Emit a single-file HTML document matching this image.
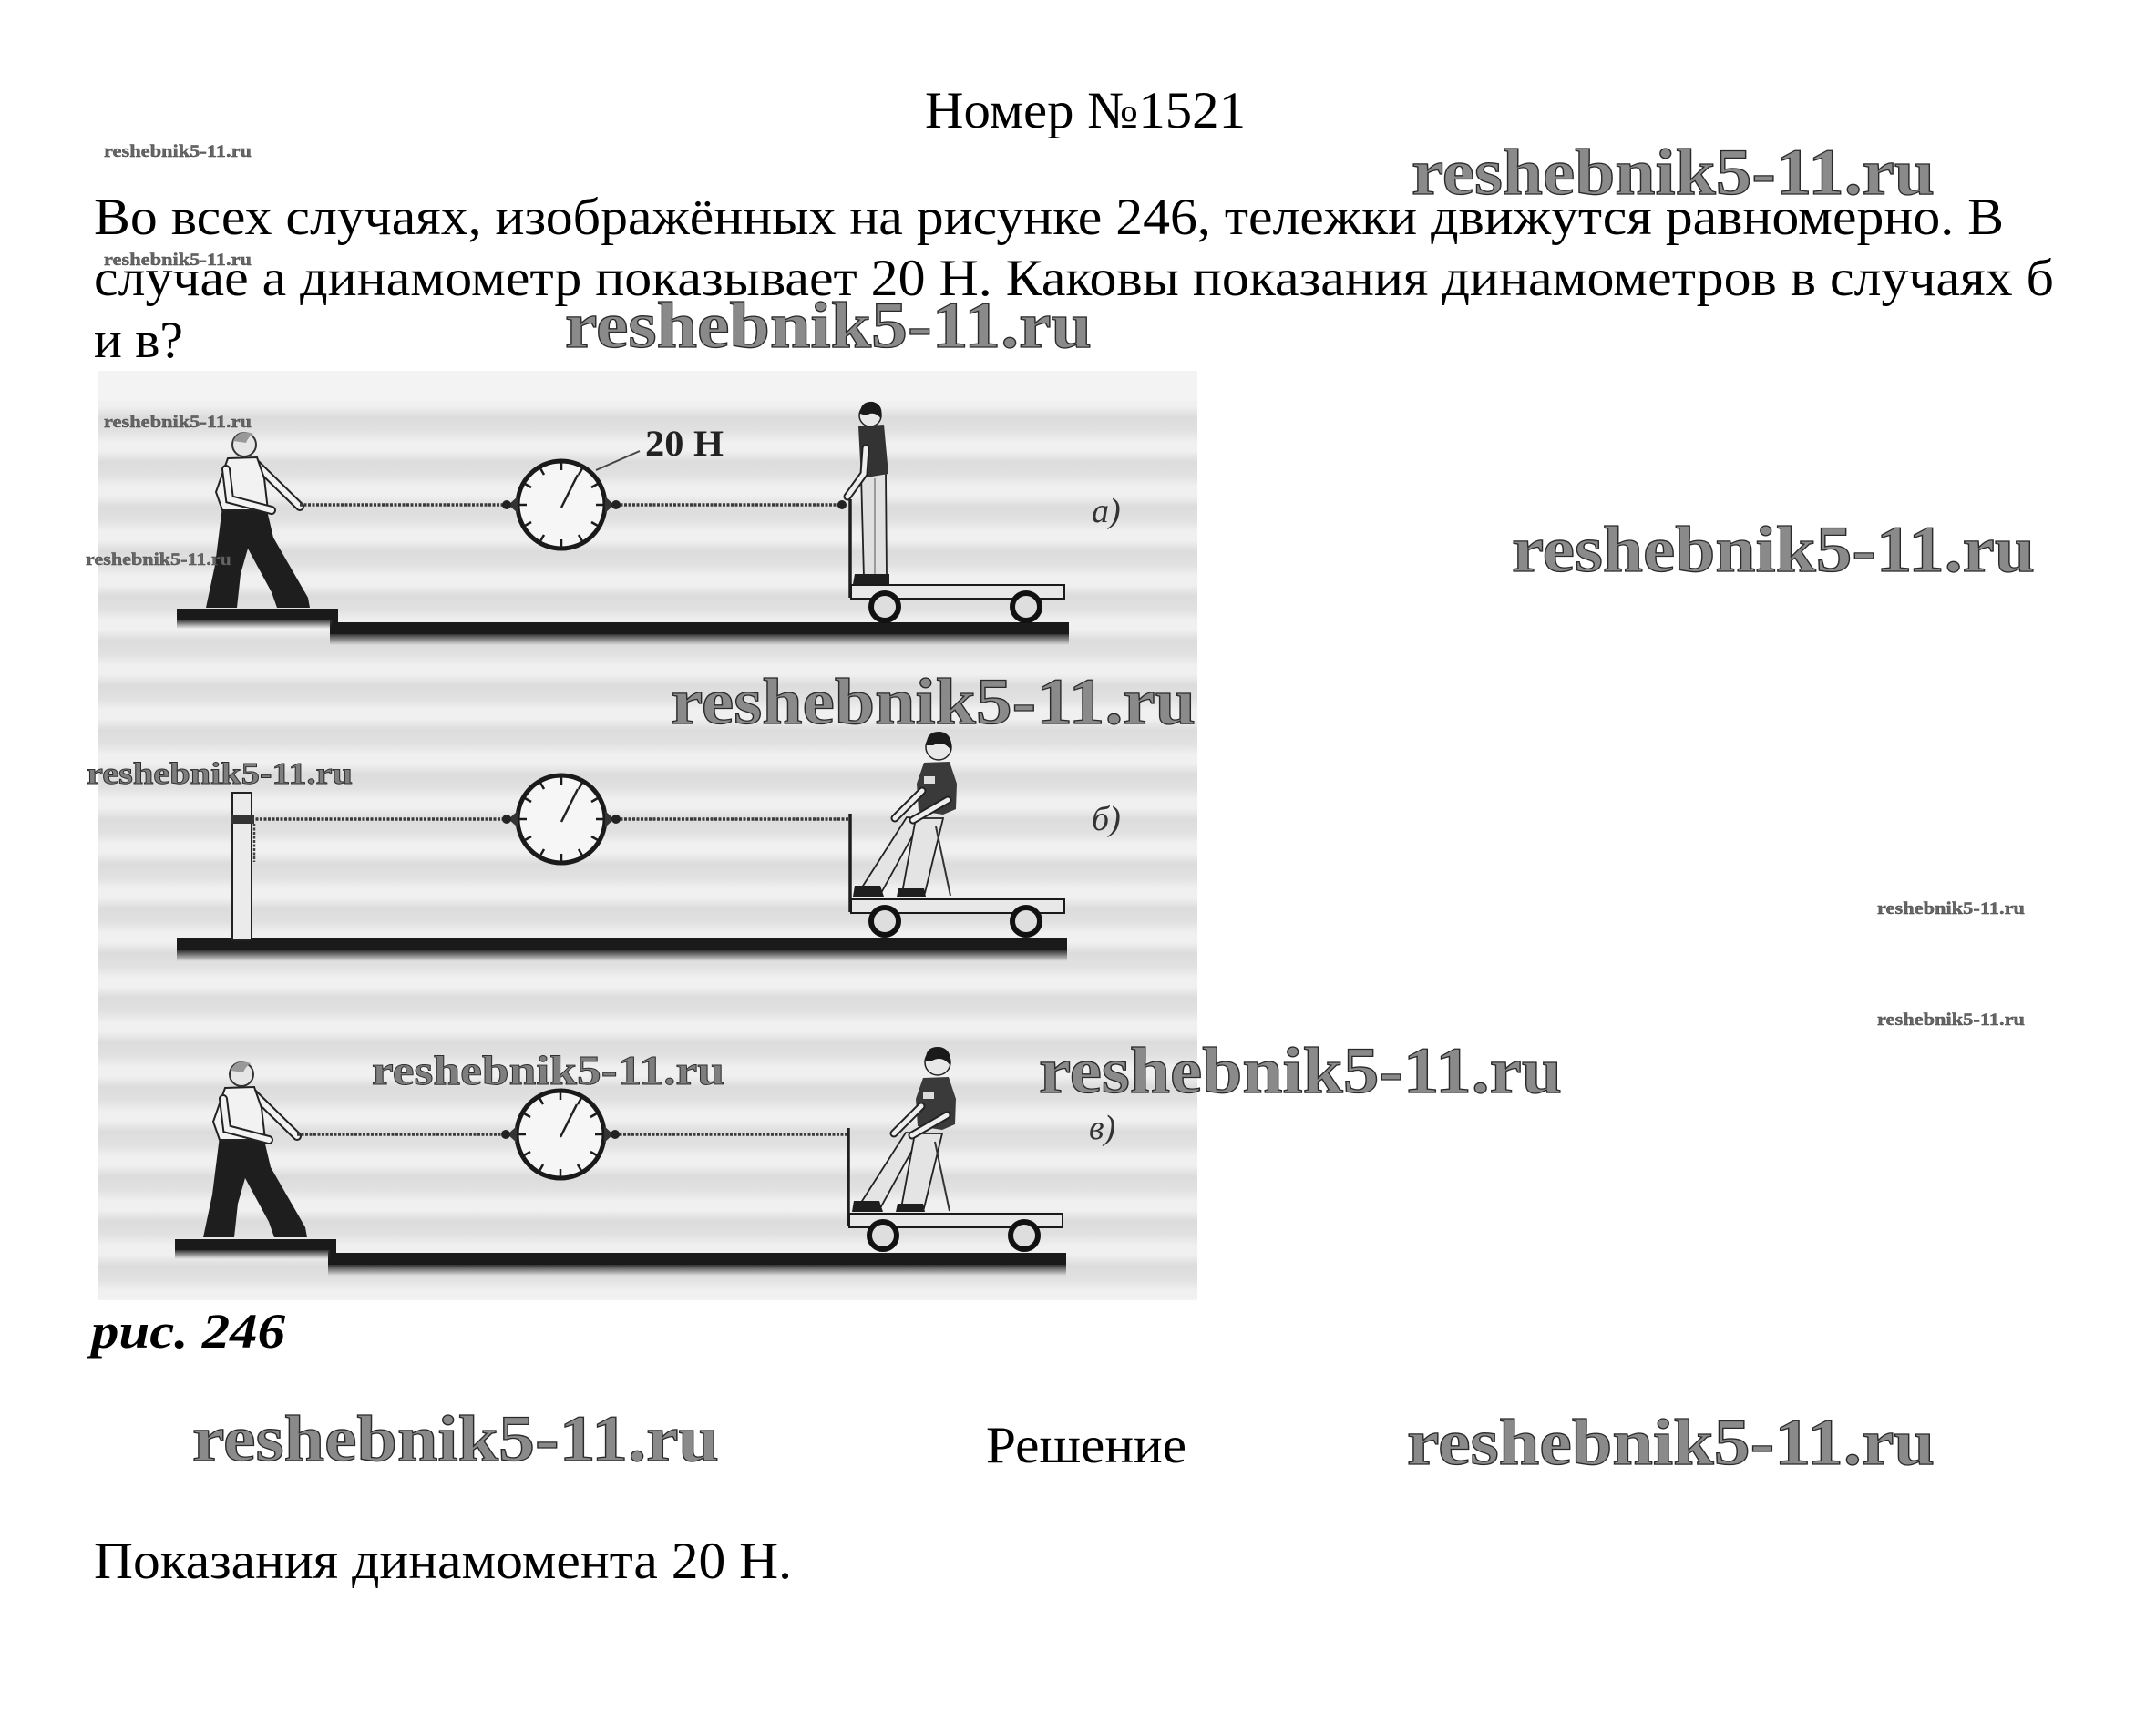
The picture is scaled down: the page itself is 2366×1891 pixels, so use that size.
<!DOCTYPE html>
<html><head><meta charset="utf-8"><style>
html,body{margin:0;padding:0;background:#fff;}
svg{display:block;}
</style></head><body>
<svg xmlns="http://www.w3.org/2000/svg" width="2366" height="1891" viewBox="0 0 2366 1891">
<defs>
<linearGradient id="bands" x1="0" y1="446" x2="0" y2="495" gradientUnits="userSpaceOnUse" spreadMethod="repeat">
<stop offset="0" stop-color="#f0f0f0"/>
<stop offset="0.25" stop-color="#dcdcdc"/>
<stop offset="0.55" stop-color="#e1e1e1"/>
<stop offset="0.8" stop-color="#f0f0f0"/>
<stop offset="1" stop-color="#f0f0f0"/>
</linearGradient>
<linearGradient id="shadow" x1="0" y1="0" x2="0" y2="1">
<stop offset="0" stop-color="#333"/>
<stop offset="1" stop-color="#333" stop-opacity="0"/>
</linearGradient>
<g id="dyn">
<circle cx="0" cy="0" r="48" fill="#f6f6f6" stroke="#1a1a1a" stroke-width="5"/>
<g stroke="#1a1a1a" stroke-width="2.5">
<line x1="0" y1="-46" x2="0" y2="-38"/><line x1="0" y1="46" x2="0" y2="38"/>
<line x1="-46" y1="0" x2="-38" y2="0"/><line x1="46" y1="0" x2="38" y2="0"/>
<line x1="23" y1="-40" x2="19" y2="-33"/><line x1="40" y1="-23" x2="33" y2="-19"/>
<line x1="-23" y1="-40" x2="-19" y2="-33"/><line x1="-40" y1="-23" x2="-33" y2="-19"/>
<line x1="23" y1="40" x2="19" y2="33"/><line x1="40" y1="23" x2="33" y2="19"/>
<line x1="-23" y1="40" x2="-19" y2="33"/><line x1="-40" y1="23" x2="-33" y2="19"/>
</g>
<line x1="0" y1="3" x2="18" y2="-33" stroke="#222" stroke-width="2.5"/>
<polygon points="-48,-9 -48,9 -58,0" fill="#333"/>
<circle cx="-60" cy="0" r="5" fill="#222"/>
<polygon points="48,-9 48,9 58,0" fill="#333"/>
<circle cx="60" cy="0" r="5" fill="#222"/>
</g>
<g id="cart">
<line x1="933" y1="548" x2="933" y2="656" stroke="#1e1e1e" stroke-width="3.5"/>
<rect x="934" y="642" width="234" height="15" fill="#e8e8e8" stroke="#1a1a1a" stroke-width="2"/>
<circle cx="971" cy="666" r="15" fill="#dedede" stroke="#111" stroke-width="6"/>
<circle cx="1126" cy="666" r="15" fill="#dedede" stroke="#111" stroke-width="6"/>
</g>
<g id="puller">
<polygon points="244,556 292,556 300,590 338,656 340,667 304,667 298,650 272,602 264,630 260,667 226,667 236,620" fill="#1e1e1e"/>
<line x1="280" y1="508" x2="329" y2="556" stroke="#222" stroke-width="10" stroke-linecap="round"/>
<line x1="280" y1="508" x2="329" y2="556" stroke="#f2f2f2" stroke-width="6" stroke-linecap="round"/>
<polygon points="250,503 282,502 290,525 294,560 244,560 237,540" fill="#f2f2f2" stroke="#222" stroke-width="2"/>
<path d="M248,515 L252,548 L298,560" fill="none" stroke="#222" stroke-width="10" stroke-linecap="round"/>
<path d="M248,515 L252,548 L298,560" fill="none" stroke="#f2f2f2" stroke-width="6" stroke-linecap="round"/>
<circle cx="268" cy="488" r="13" fill="#e6e6e6" stroke="#333" stroke-width="2"/>
<path d="M256,484 Q262,470 278,476 Q272,480 270,486 Z" fill="#999"/>
</g>
<g id="leaner">
<polygon points="995,897 1012,898 967,980 942,980" fill="#e4e4e4" stroke="#222" stroke-width="1.8"/>
<polygon points="1005,898 1035,898 1015,980 990,980" fill="#e4e4e4" stroke="#222" stroke-width="1.8"/>
<polygon points="938,972 966,972 970,984 936,984" fill="#1e1e1e"/>
<polygon points="986,975 1014,975 1016,984 984,984" fill="#1e1e1e"/>
<line x1="1027" y1="907" x2="1043" y2="983" stroke="#333" stroke-width="2"/>
<polygon points="1014,837 1042,836 1050,860 1049,888 1035,894 1008,890 1006,860" fill="#3a3a3a"/>
<rect x="1014" y="852" width="12" height="8" fill="#ddd"/>
<path d="M1012,868 L982,898" stroke="#222" stroke-width="9" stroke-linecap="round"/>
<path d="M1012,868 L982,898" stroke="#eee" stroke-width="5" stroke-linecap="round"/>
<path d="M1040,878 L1002,900" stroke="#222" stroke-width="9" stroke-linecap="round"/>
<path d="M1040,878 L1002,900" stroke="#eee" stroke-width="5" stroke-linecap="round"/>
<circle cx="1030" cy="820" r="14" fill="#e8e8e8" stroke="#222" stroke-width="1.5"/>
<path d="M1017,818 Q1016,802 1032,803 Q1046,805 1044,824 Q1036,812 1024,818 Z" fill="#1a1a1a"/>
</g>
</defs>

<!-- Figure background -->
<rect x="108" y="407" width="1206" height="1020" fill="#f3f3f3"/>
<rect x="108" y="440" width="1206" height="985" fill="url(#bands)"/>

<!-- ===== Figure a ===== -->
<polygon points="194,668 371,668 371,683 1173,683 1173,696 362,696 362,680 194,680" fill="#1a1a1a"/>
<rect x="194" y="680" width="170" height="10" fill="url(#shadow)"/>
<rect x="362" y="696" width="811" height="12" fill="url(#shadow)"/>
<use href="#puller"/>
<line x1="329" y1="554" x2="556" y2="554" stroke="#3a3a3a" stroke-width="3.5" stroke-dasharray="3 1.5"/>
<line x1="676" y1="554" x2="924" y2="554" stroke="#3a3a3a" stroke-width="3.5" stroke-dasharray="3 1.5"/>
<use href="#dyn" x="616" y="554"/>
<line x1="654" y1="516" x2="702" y2="495" stroke="#444" stroke-width="2"/>
<text x="708" y="500" font-family="Liberation Serif, serif" font-weight="bold" font-size="40" textLength="86" lengthAdjust="spacingAndGlyphs" fill="#222">20 Н</text>
<use href="#cart"/>
<circle cx="924" cy="554" r="5" fill="#222"/>
<!-- standing person -->
<polygon points="945,520 972,518 973,632 948,634" fill="#e0e0e0" stroke="#222" stroke-width="1.8"/>
<line x1="960" y1="525" x2="960" y2="632" stroke="#555" stroke-width="1"/>
<polygon points="938,630 976,630 976,641 936,641" fill="#1e1e1e"/>
<polygon points="942,468 970,466 975,520 945,525" fill="#333"/>
<path d="M950,492 L948,520 L930,545" fill="none" stroke="#222" stroke-width="9" stroke-linecap="round"/>
<path d="M950,492 L948,520 L930,545" fill="none" stroke="#eee" stroke-width="5" stroke-linecap="round"/>
<circle cx="955" cy="456" r="12" fill="#e8e8e8" stroke="#222" stroke-width="1.5"/>
<path d="M944,454 Q944,440 958,441 Q970,444 967,460 Q960,450 950,456 Z" fill="#1a1a1a"/>
<text x="1198" y="573" font-family="Liberation Serif, serif" font-style="italic" font-size="38" fill="#333">а)</text>

<!-- ===== Figure b ===== -->
<rect x="194" y="1030" width="977" height="13" fill="#1a1a1a"/>
<rect x="194" y="1043" width="977" height="12" fill="url(#shadow)"/>
<rect x="255" y="870" width="21" height="162" fill="#ebebeb" stroke="#222" stroke-width="2"/>
<rect x="253" y="895" width="26" height="9" fill="#333"/>
<line x1="279" y1="904" x2="279" y2="946" stroke="#444" stroke-width="2.5" stroke-dasharray="3 1.5"/>
<line x1="276" y1="899" x2="556" y2="899" stroke="#3a3a3a" stroke-width="3.5" stroke-dasharray="3 1.5"/>
<line x1="676" y1="899" x2="933" y2="899" stroke="#3a3a3a" stroke-width="3.5" stroke-dasharray="3 1.5"/>
<use href="#dyn" x="616" y="899"/>
<use href="#cart" y="345"/>
<use href="#leaner"/>
<text x="1198" y="911" font-family="Liberation Serif, serif" font-style="italic" font-size="38" fill="#333">б)</text>

<!-- ===== Figure c ===== -->
<polygon points="192,1360 369,1360 369,1375 1170,1375 1170,1388 360,1388 360,1372 192,1372" fill="#1a1a1a"/>
<rect x="192" y="1372" width="170" height="10" fill="url(#shadow)"/>
<rect x="360" y="1388" width="810" height="12" fill="url(#shadow)"/>
<use href="#puller" x="-3" y="691"/>
<line x1="326" y1="1245" x2="555" y2="1245" stroke="#3a3a3a" stroke-width="3.5" stroke-dasharray="3 1.5"/>
<line x1="675" y1="1245" x2="931" y2="1245" stroke="#3a3a3a" stroke-width="3.5" stroke-dasharray="3 1.5"/>
<use href="#dyn" x="615" y="1245"/>
<use href="#cart" x="-2" y="690"/>
<use href="#leaner" x="-1" y="346"/>
<text x="1195" y="1250" font-family="Liberation Serif, serif" font-style="italic" font-size="38" fill="#333">в)</text>

<!-- ===== Text ===== -->
<g font-family="Liberation Serif, 'Noto Serif CJK SC', serif" fill="#000" font-size="57">
<text x="1015" y="140" textLength="352" lengthAdjust="spacingAndGlyphs">Номер №1521</text>
<text x="103" y="257" textLength="2096" lengthAdjust="spacingAndGlyphs">Во всех случаях, изображённых на рисунке 246, тележки движутся равномерно. В</text>
<text x="103" y="324" textLength="2151" lengthAdjust="spacingAndGlyphs">случае а динамометр показывает 20 Н. Каковы показания динамометров в случаях б</text>
<text x="103" y="392" textLength="98" lengthAdjust="spacingAndGlyphs">и в?</text>
<text x="1082" y="1605" textLength="220" lengthAdjust="spacingAndGlyphs">Решение</text>
<text x="103" y="1732" textLength="766" lengthAdjust="spacingAndGlyphs">Показания динамомента 20 Н.</text>
<text x="100" y="1479" font-size="54" font-weight="bold" font-style="italic" textLength="213" lengthAdjust="spacingAndGlyphs">рис. 246</text>
</g>

<!-- ===== Watermarks ===== -->
<g font-family="Liberation Serif, serif" font-weight="bold">
<g fill="#8a8a8a" stroke="#2a2a2a" stroke-width="1.3" font-size="72">
<text x="1549" y="213" textLength="574" lengthAdjust="spacingAndGlyphs">reshebnik5-11.ru</text>
<text x="620" y="381" textLength="578" lengthAdjust="spacingAndGlyphs">reshebnik5-11.ru</text>
<text x="1659" y="627" textLength="574" lengthAdjust="spacingAndGlyphs">reshebnik5-11.ru</text>
<text x="736" y="794" textLength="576" lengthAdjust="spacingAndGlyphs">reshebnik5-11.ru</text>
<text x="1140" y="1199" textLength="574" lengthAdjust="spacingAndGlyphs">reshebnik5-11.ru</text>
<text x="211" y="1603" textLength="578" lengthAdjust="spacingAndGlyphs">reshebnik5-11.ru</text>
<text x="1544" y="1607" textLength="579" lengthAdjust="spacingAndGlyphs">reshebnik5-11.ru</text>
</g>
<g fill="#7e7e7e" stroke="#2e2e2e" stroke-width="0.9">
<text x="95" y="860" font-size="34" textLength="292" lengthAdjust="spacingAndGlyphs">reshebnik5-11.ru</text>
<text x="408" y="1190" font-size="45" textLength="387" lengthAdjust="spacingAndGlyphs">reshebnik5-11.ru</text>
</g>
<g fill="#666" stroke="#444" stroke-width="0.4" font-size="19">
<text x="114" y="172" textLength="162" lengthAdjust="spacingAndGlyphs">reshebnik5-11.ru</text>
<text x="114" y="291" textLength="162" lengthAdjust="spacingAndGlyphs">reshebnik5-11.ru</text>
<text x="114" y="469" textLength="162" lengthAdjust="spacingAndGlyphs">reshebnik5-11.ru</text>
<text x="94" y="620" textLength="160" lengthAdjust="spacingAndGlyphs">reshebnik5-11.ru</text>
<text x="2060" y="1003" textLength="162" lengthAdjust="spacingAndGlyphs">reshebnik5-11.ru</text>
<text x="2060" y="1125" textLength="162" lengthAdjust="spacingAndGlyphs">reshebnik5-11.ru</text>
</g>
</g>
</svg>
</body></html>
